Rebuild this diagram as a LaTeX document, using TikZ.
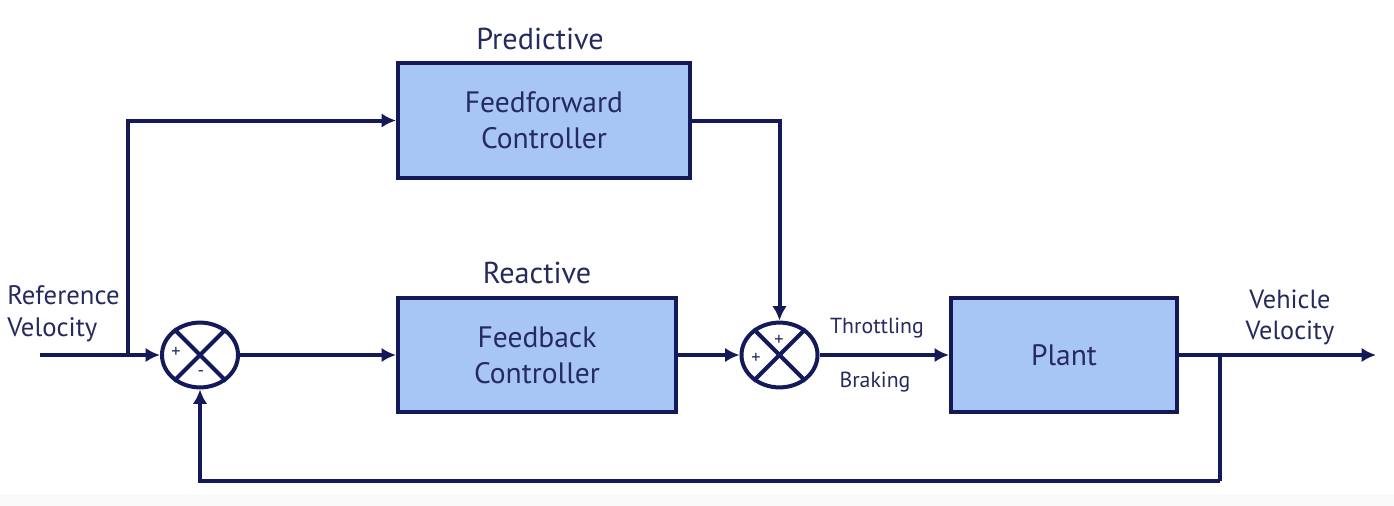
\documentclass[tikz,border=0pt]{standalone}
\usepackage{fontspec}
\setmainfont{PT Sans}
\usetikzlibrary{positioning,arrows.meta,shapes.geometric}

\definecolor{navy}{HTML}{14195A}
\definecolor{navytext}{HTML}{252B5E}
\definecolor{boxblue}{HTML}{A8C6F5}

\tikzset{
    block/.style={draw=navy, fill=boxblue, line width=0.1cm, align=center,
        text=navytext, font=\fontsize{21}{25.5}\selectfont},
    sumnode/.style={draw=navy, fill=white, ellipse, line width=0.1cm,
        minimum width=1.9cm, minimum height=1.62cm, inner sep=0pt},
    link/.style={draw=navy, line width=0.1cm},
    arrowlink/.style={link, -{Latex[length=3.6mm,width=3.6mm]}},
    label/.style={text=navytext, inner sep=0pt},
    sign/.style={text=navytext, inner sep=0pt, font=\fontsize{13}{14}\selectfont}
}

\begin{document}
\begin{tikzpicture}[x=0.025cm, y=-0.025cm]

            % Canvas with the faint grey strip at the bottom
            \fill[white] (0,0) rectangle (1394,506);
            \fill[gray!5] (0,494) rectangle (1394,506);
            \useasboundingbox (0,0) rectangle (1394,506);

            % Controller and plant blocks
            \node[block, minimum width=7.3cm, minimum height=2.87cm] (ff) at (544,120.5) {Feedforward\\Controller};
            \node[block, minimum width=6.95cm, minimum height=2.85cm] (fb) at (537,355) {Feedback\\Controller};
            \node[block, minimum width=5.65cm, minimum height=2.85cm] (plant) at (1064,355) {Plant};

            % Block titles
            \node[label, font=\fontsize{21.5}{24}\selectfont] (predictive) at (540,39) {Predictive};
            \node[label, font=\fontsize{21.5}{24}\selectfont] (reactive) at (537,273) {Reactive};

            % Summing junctions
            \node[sumnode] (sum1) at (200,355) {};
            \draw[link] (sum1.45) -- (sum1.225);
            \draw[link] (sum1.135) -- (sum1.315);
            \node[sign] at (176,352) {+};
            \node[sign] at (201,374) {-};

            \node[sumnode] (sum2) at (779.5,355) {};
            \draw[link] (sum2.45) -- (sum2.225);
            \draw[link] (sum2.135) -- (sum2.315);
            \node[sign] at (779,340) {+};
            \node[sign] at (756,358) {+};

            % Reference input and its branch to the feedforward path
            \coordinate (ref) at (40,355);
            \coordinate (branch) at (128,355);
            \draw[arrowlink] (ref) -- (sum1.west);
            \draw[arrowlink] (branch) |- (ff.west);
            \node[label, align=left, anchor=west, font=\fontsize{19}{22.7}\selectfont] (reflabel) at (7,314) {Reference\\Velocity};

            % Forward path
            \draw[arrowlink] (sum1.east) -- (fb.west);
            \draw[arrowlink] (fb.east) -- (sum2.west);
            \draw[arrowlink] (ff.east) -| (sum2.north);
            \draw[arrowlink] (sum2.east) -- (plant.west);
            \node[label, font=\fontsize{15.5}{17}\selectfont] (throttle) at (877,328) {Throttling};
            \node[label, font=\fontsize{15.5}{17}\selectfont] (brake) at (875,382) {Braking};

            % Output
            \coordinate (out) at (1376,355);
            \draw[arrowlink] (plant.east) -- (out);
            \node[label, align=center, font=\fontsize{18.7}{22}\selectfont] (outlabel) at (1290,317) {Vehicle\\Velocity};

            % Feedback loop
            \coordinate (tap) at (1220,355);
            \coordinate (loop) at (1220,481);
            \draw[link] (tap) -- (loop);
            \draw[arrowlink] (loop) -| (sum1.south);

\end{tikzpicture}
\end{document}
